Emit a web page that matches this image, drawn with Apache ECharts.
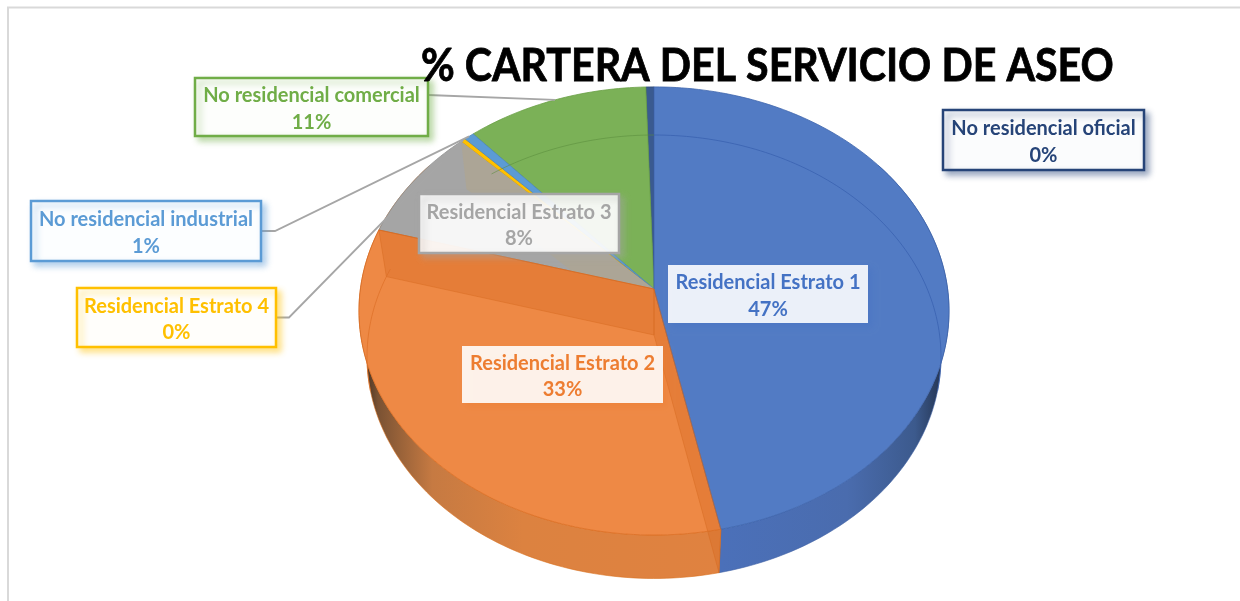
<!DOCTYPE html>
<html>
<head>
<meta charset="utf-8">
<title>% CARTERA DEL SERVICIO DE ASEO</title>
<style>
  html, body { margin: 0; padding: 0; background: #fff; }
  #chart { width: 1240px; height: 601px; }
</style>
</head>
<body>
<div id="chart"></div>
<script src="https://cdn.jsdelivr.net/npm/echarts@6/dist/echarts.min.js"></script>
<script>
  const chartTitle = '% CARTERA DEL SERVICIO DE ASEO'
  const categories = [
    'Residencial Estrato 1',
    'Residencial Estrato 2',
    'Residencial Estrato 3',
    'Residencial Estrato 4',
    'No residencial industrial',
    'No residencial comercial',
    'No residencial oficial',
  ]
  // percentages, labels are these rounded
  const shares = [46.7, 32.7, 8.2, 0.3, 0.6, 11.01, 0.49]

  const faceColors = ['#527bc4', '#ee8945', '#a5a5a5', '#ffc000', '#5b9bd5', '#7bb157', '#3a5a90']
  const labelColors = ['#4472c4', '#ed7d31', '#a5a5a5', '#ffc000', '#5b9bd5', '#70ad47', '#264478']

  // label boxes: x0, y0, x1, y1, fill, border width
  const labelBoxes = [
    [668, 265, 868, 323, 'rgba(255,255,255,0.89)', 0],
    [462, 346, 663, 403, 'rgba(255,255,255,0.89)', 0],
    [419, 194, 619, 253, 'rgba(255,255,255,0.9)', 2.5],
    [77, 288, 276, 347, 'rgba(255,255,255,0.96)', 2.5],
    [31, 201, 261, 261, 'rgba(255,255,255,0.96)', 2.5],
    [195, 78, 428, 136, 'rgba(255,255,255,0.96)', 2.5],
    [943, 110, 1144, 170, 'rgba(255,255,255,0.96)', 2.5],
  ]
  const leaderElbowX = { 3: 289, 4: 275, 5: 429 }

  // the tilted disk: top face and the underside seen through it
  const topDisk = { cx: 654, cy: 289, rx: 293.6, ry: 221.9 }
  const bottomDisk = { cx: 654, cy: 335, rx: 285.6, ry: 219.6 }
  const tilt = 0.098

  const total = shares.reduce((a, b) => a + b, 0)
  const starts = []
  shares.reduce((acc, v, i) => { starts[i] = acc; return acc + v }, 0)

  const rimPoint = (disk, pct, r = 1) => {
    const a = pct / total * Math.PI * 2
    const u = Math.sin(a) * r
    const v = -Math.cos(a) * r
    const w = 1 - tilt * v
    return [disk.cx + disk.rx * u / w, disk.cy + disk.ry * v / w]
  }
  const rimArc = (disk, from, to) => {
    const pts = []
    const n = Math.max(2, Math.ceil((to - from) * 3))
    for (let i = 0; i <= n; i++) pts.push(rimPoint(disk, from + (to - from) * i / n))
    return pts
  }
  const gradient = (x0, x1, stops) => new echarts.graphic.LinearGradient(
    x0, 0, x1, 0, stops.map(([offset, color]) => ({ offset, color })), true
  )

  const sideFills = {
    0: () => gradient(722, 949, [[0, '#4b70b9'], [0.55, '#4a6cae'], [0.85, '#3c5a8d'], [1, '#1f2c44']]),
    1: () => gradient(360, 722, [[0, '#33251b'], [0.05, '#7a5233'], [0.2, '#c67a42'], [0.45, '#dc8240'], [1, '#e08240']]),
  }

  // painted back to front, the picture is a see-through pie
  const drawOrder = [
    ['side', 0], ['side', 1],
    ['top', 6], ['top', 5], ['top', 2], ['top', 3], ['top', 4],
    ['wall', 2],
    ['top', 1], ['top', 0],
    ['wall', 1], ['wall', 0],
    ['arc', 0],
    ['leader', 3], ['leader', 4], ['leader', 5],
    ['label', 0], ['label', 1], ['label', 2], ['label', 3], ['label', 4], ['label', 5], ['label', 6],
  ]

  const drawSide = (i) => {
    if (!sideFills[i]) return null
    const from = starts[i] + (i === 0 ? total * 0.15 : 0)
    const to = i === 0 ? starts[i] + shares[i] : total * 0.85
    const points = rimArc(topDisk, from, to).concat(rimArc(bottomDisk, from, to).reverse())
    return { type: 'polygon', shape: { points }, style: { fill: sideFills[i](), stroke: i === 1 ? '#d9701f' : '#3f62a5', lineWidth: 0.6 } }
  }

  const drawTop = (i) => {
    const points = [[topDisk.cx, topDisk.cy]].concat(rimArc(topDisk, starts[i], starts[i] + shares[i]))
    const stroke = ['#3f66ad', '#dd6f25', '#8f8f8f', '#d9a300', '#4a86bd', '#6a9f45', '#2f4a78'][i]
    return { type: 'polygon', shape: { points }, style: { fill: faceColors[i], stroke, lineWidth: 0.8 } }
  }

  // see-through radial cuts between top face and underside
  const drawWall = (i) => {
    const cut = i === 0 ? starts[1] : i === 1 ? starts[2] : starts[3]
    const points = [
      [topDisk.cx, topDisk.cy],
      rimPoint(topDisk, cut),
      rimPoint(bottomDisk, cut),
      [bottomDisk.cx, bottomDisk.cy],
    ]
    const style = i === 2
      ? { fill: '#aca596' }
      : { fill: 'rgba(214,106,32,0.36)', stroke: 'rgba(214,106,32,0.7)', lineWidth: 0.7 }
    return { type: 'polygon', shape: { points }, style }
  }

  const drawArc = () => {
    // back half of the underside rim, faint through the top face
    const points = rimArc(bottomDisk, total * 0.0, total * 0.29)
    const left = rimArc(bottomDisk, total * 0.71, total * 0.8)
    const back = rimArc(bottomDisk, total * 0.895, total)
    const piece = (pts, stroke) => ({ type: 'polyline', shape: { points: pts }, style: { fill: null, stroke, lineWidth: 1 } })
    return {
      type: 'group',
      children: [
        piece(points, 'rgba(56,96,175,0.75)'),
        piece(left, 'rgba(222,112,40,0.75)'),
        piece(back, 'rgba(90,140,60,0.55)'),
      ],
    }
  }

  const drawLeader = (i) => {
    const box = labelBoxes[i]
    const end = rimPoint(topDisk, starts[i] + shares[i] / 2)
    const midY = (box[1] + box[3]) / 2
    const y = i === 5 ? box[1] + 17 : midY
    const points = i === 5
      ? [[box[2], y], end]
      : [[box[2], y], [leaderElbowX[i], y], end]
    return { type: 'polyline', shape: { points }, style: { fill: null, stroke: '#a6a6a6', lineWidth: 1.8 } }
  }

  const drawLabel = (i) => {
    const [x0, y0, x1, y1, fill, border] = labelBoxes[i]
    const pct = Math.round(shares[i] / total * 100)
    return {
      type: 'group',
      children: [
        {
          type: 'rect',
          shape: { x: x0, y: y0, width: x1 - x0, height: y1 - y0 },
          style: {
            fill,
            stroke: border ? labelColors[i] : 'rgba(255,255,255,0)',
            lineWidth: border,
            shadowBlur: 6,
            shadowOffsetX: 4,
            shadowOffsetY: 4,
            shadowColor: labelColors[i] + '77',
          },
        },
        {
          type: 'text',
          style: {
            x: (x0 + x1) / 2,
            y: (y0 + y1) / 2 + 2,
            text: categories[i] + '\n' + pct + '%',
            fill: labelColors[i],
            font: 'bold 20px Lato',
            lineHeight: 26.5,
            align: 'center',
            verticalAlign: 'middle',
          },
        },
      ],
    }
  }

  const painters = { side: drawSide, top: drawTop, wall: drawWall, arc: drawArc, leader: drawLeader, label: drawLabel }

  const option = {
    animation: false,
    backgroundColor: '#fff',
    graphic: [
      {
        type: 'polyline',
        silent: true,
        shape: { points: [[8, 601], [8, 7.5], [1240, 7.5]] },
        style: { fill: null, stroke: '#d9d9d9', lineWidth: 2 },
      },
      {
        type: 'text',
        silent: true,
        z: 20,
        x: 421,
        y: 66,
        scaleX: 0.895,
        style: {
          text: chartTitle,
          fill: '#000',
          stroke: '#000',
          lineWidth: 0.8,
          font: 'bold 46px Lato',
          align: 'left',
          verticalAlign: 'middle',
        },
      },
    ],
    series: [
      {
        type: 'custom',
        coordinateSystem: 'none',
        silent: true,
        clip: false,
        data: drawOrder.map((row, i) => [i]),
        renderItem: (params) => {
          const [kind, idx] = drawOrder[params.dataIndex]
          return painters[kind](idx)
        },
      },
    ],
  }

  const myChart = echarts.init(document.getElementById('chart'))
  myChart.setOption(option)
</script>
</body>
</html>
